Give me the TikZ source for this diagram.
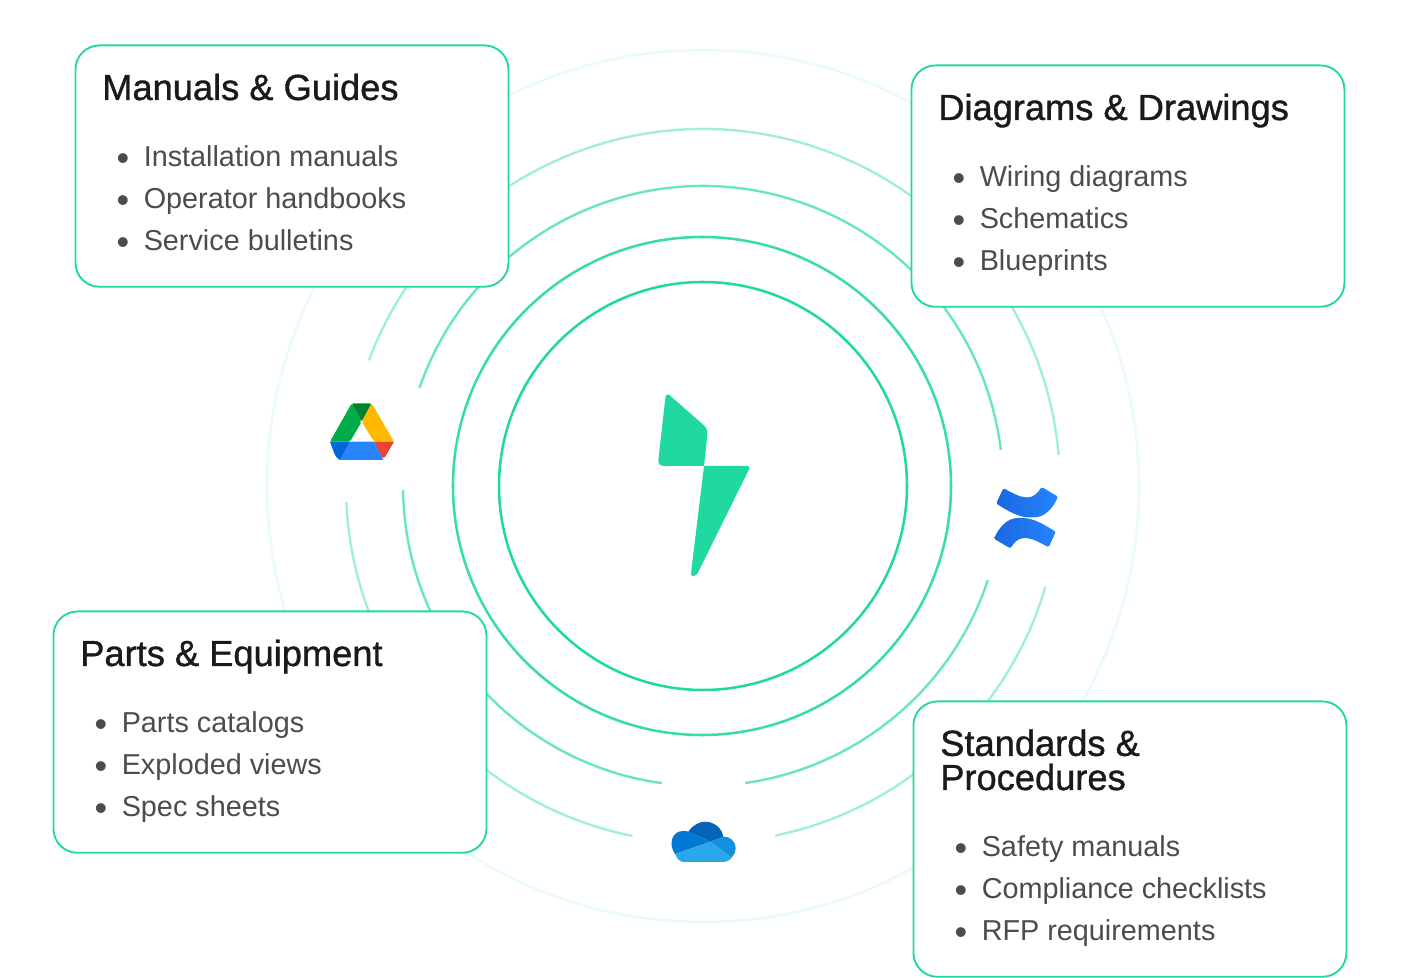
\documentclass[tikz,border=0pt]{standalone}
\usepackage{fontspec}
\setmainfont{Liberation Sans}
\newfontfamily\headfont[FakeBold=1]{Liberation Sans}
\usetikzlibrary{positioning,calc}
\definecolor{ringgreen}{RGB}{34,216,162}
\definecolor{boltgreen}{RGB}{31,217,160}
\definecolor{headink}{RGB}{24,26,28}
\definecolor{itemink}{RGB}{74,76,78}
\definecolor{confdark}{RGB}{24,104,224}
\definecolor{conflight}{RGB}{38,132,255}
\definecolor{drivegreen}{RGB}{0,172,71}
\definecolor{drivedeep}{RGB}{0,131,45}
\definecolor{driveyellow}{RGB}{255,186,0}
\definecolor{drivered}{RGB}{234,67,53}
\definecolor{driveblue}{RGB}{38,132,252}
\definecolor{drivenavy}{RGB}{0,102,218}
\definecolor{clouddeep}{RGB}{3,100,184}
\definecolor{cloudmid}{RGB}{0,120,212}
\definecolor{cloudside}{RGB}{20,144,223}
\definecolor{cloudbase}{RGB}{40,168,234}
\tikzset{
  infocard/.style={draw=ringgreen,fill=white,line width=1.4pt,rounded corners=18pt,minimum width=324.75pt,minimum height=181pt,anchor=north west,inner sep=0pt},
  cardhead/.style={anchor=base west,inner sep=0pt,text=headink,align=left,font=\headfont\fontsize{27.2}{25.6}\selectfont},
  carditem/.style={anchor=base west,inner sep=0pt,text=itemink,font=\fontsize{21.6}{25}\selectfont},
  cardbullet/.style={anchor=base,inner sep=0pt,text=itemink,yshift=-3pt,font=\fontsize{27}{25}\selectfont}
}
\begin{document}
\begin{tikzpicture}[x=0.75pt,y=0.75pt]
\useasboundingbox (0,0) rectangle (1410,978);
\coordinate (hub) at (703,492);
% Full rings
\draw[ringgreen,line width=1.9pt] (hub) circle (204);
\draw[ringgreen,line width=1.9pt,opacity=0.9] ($(hub)+(-1,0)$) circle (249);
\draw[ringgreen,line width=2pt,opacity=0.09] (hub) circle (436);
% Broken rings
\foreach \from/\to in {-18.3/-81.9,-97.9/-179.2,160.9/6.9}
  \draw[ringgreen,line width=1.8pt,opacity=0.68] ($(hub)+(\from:300)$) arc[start angle=\from,end angle=\to,radius=300];
\foreach \from/\to in {-16.4/-78.3,-101.4/-177.4,159.4/5}
  \draw[ringgreen,line width=1.8pt,opacity=0.42] ($(hub)+(\from:357)$) arc[start angle=\from,end angle=\to,radius=357];
% Bolt
\fill[boltgreen] (704,512) [rounded corners=4] -- (657.7,512) -- (666,586) -- (708,549) [sharp corners] -- cycle;
\fill[boltgreen] (704,512) [rounded corners=2.5] -- (750.7,512) -- (696.5,402.5) -- (691.5,401) -- (691,405) [sharp corners] -- cycle;
% Drive icon
\fill[drivegreen,rounded corners=1.5] (351.7,574.7) -- (361.7,556.3) -- (350,536.3) -- (330,536.3) -- cycle;
\fill[drivedeep,rounded corners=1] (351.7,574.7) -- (371.7,574.7) -- (361.7,556.3) -- cycle;
\fill[driveyellow,rounded corners=1.5] (371.7,574.7) -- (394,536.3) -- (374,536.3) -- (361.7,556.3) -- cycle;
\fill[drivered] (374,536.3) -- (394,536.3) [rounded corners=3] -- (383.3,518) [sharp corners] -- cycle;
\fill[driveblue] (350,536.3) -- (374,536.3) -- (383.3,518) -- (340,518) -- cycle;
\fill[drivenavy] (330,536.3) -- (350,536.3) -- (340,518) [rounded corners=3] -- (336,520) [sharp corners] -- cycle;
% Confluence icon
\foreach \turn in {0,180} {
\begin{scope}[rotate around={\turn:(1026,460.3)}]
\shade[left color=confdark,right color=conflight,rounded corners=1]
  (1003.3,489.7) .. controls (1012,485.5) and (1019,481) .. (1026.7,480.7)
  .. controls (1034,480.7) and (1037.5,485) .. (1041.7,491)
  -- (1058,481.3) .. controls (1053,470) and (1045,460.5) .. (1032,460.5)
  .. controls (1019,460.5) and (1009,466.3) .. (996.2,474.5) -- cycle;
\end{scope}
}
% OneDrive icon
\fill[clouddeep] (688.3,146.3) .. controls (693,153) and (699,156.3) .. (705,156.3)
  .. controls (714,156.3) and (722,150) .. (723.3,141.3) -- (710,136.3) -- cycle;
\fill[cloudmid] (675,124) .. controls (668,134) and (672,147) .. (683,147)
  .. controls (685,147) and (687,147) .. (688.3,146.3) -- (710,136.3) -- cycle;
\fill[cloudside] (710,136.3) -- (723.3,141.3) .. controls (730,142) and (736,136) .. (735.7,129.7)
  .. controls (735.7,126) and (734,123) .. (731.7,120.3) -- cycle;
\fill[cloudbase] (675,124) -- (710,136.3) -- (731.7,120.3) .. controls (729,117) and (726,116) .. (722,116) -- (684,116) .. controls (680,116) and (677,119) .. (675,124) -- cycle;
% Cards
\node[infocard] (guides) at (74.5,933.5) {};
\node[infocard] (drawings) at (910.5,913.5) {};
\node[infocard] (parts) at (52.5,367.5) {};
\node[infocard,minimum height=206.5pt] (standards) at (912.5,277.5) {};
\node[cardhead] (guidesHead) at (102,878) {Manuals \& Guides};
\node[cardhead] (drawingsHead) at (938,858) {Diagrams \& Drawings};
\node[cardhead] (partsHead) at (80,312) {Parts \& Equipment};
\node[cardhead] (standardsHead) at (940,188) {Standards \&\\Procedures};
\foreach \i/\txt in {0/Installation manuals,1/Operator handbooks,2/Service bulletins} {
  \node[cardbullet] (guidesDot\i) at (123,811-42*\i) {•};
  \node[carditem] (guidesItem\i) at (143.5,811-42*\i) {\txt};
}
\foreach \i/\txt in {0/Wiring diagrams,1/Schematics,2/Blueprints} {
  \node[cardbullet] (drawingsDot\i) at (959,791-42*\i) {•};
  \node[carditem] (drawingsItem\i) at (979.5,791-42*\i) {\txt};
}
\foreach \i/\txt in {0/Parts catalogs,1/Exploded views,2/Spec sheets} {
  \node[cardbullet] (partsDot\i) at (101,245-42*\i) {•};
  \node[carditem] (partsItem\i) at (121.5,245-42*\i) {\txt};
}
\foreach \i/\txt in {0/Safety manuals,1/Compliance checklists,2/RFP requirements} {
  \node[cardbullet] (standardsDot\i) at (961,121-42*\i) {•};
  \node[carditem] (standardsItem\i) at (981.5,121-42*\i) {\txt};
}
\end{tikzpicture}
\end{document}
